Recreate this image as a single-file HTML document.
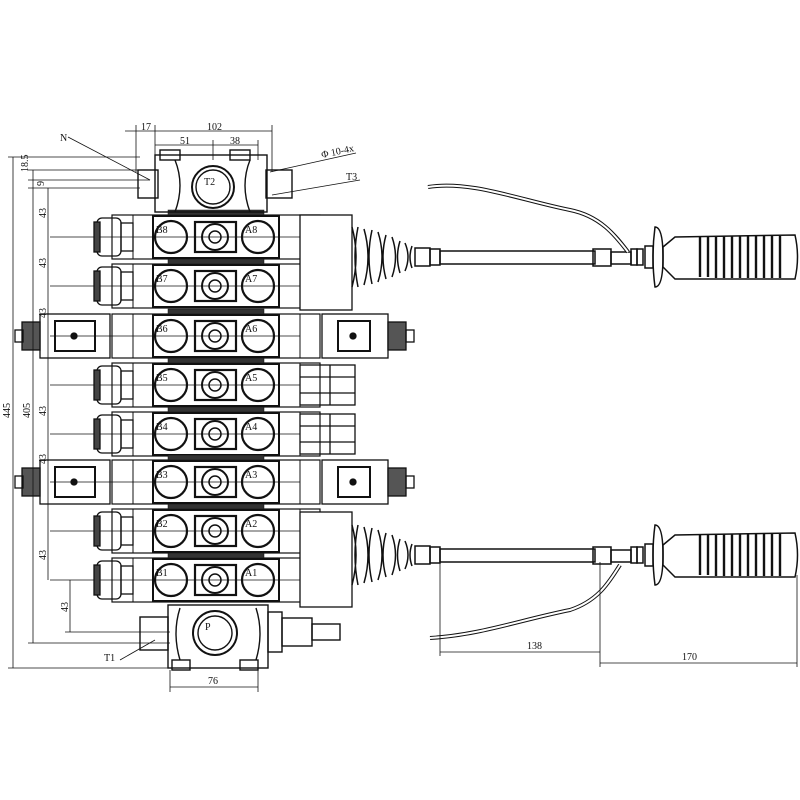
<!DOCTYPE html>
<html><head><style>
html,body{margin:0;padding:0;background:#fff;}
svg{display:block;}
text{font-family:"Liberation Serif",serif;font-size:10px;fill:#111;}
</style></head><body>
<svg width="800" height="800" viewBox="0 0 800 800" xmlns="http://www.w3.org/2000/svg">
<defs>
<g id="sec" fill="none" stroke="#111">
  <rect x="112" y="-22" width="208" height="44" stroke-width="1.2"/>
  <rect x="153" y="-21" width="126" height="42" stroke-width="2"/>
  <circle cx="171" cy="0" r="16" stroke-width="2.2"/>
  <circle cx="258" cy="0" r="16" stroke-width="2.2"/>
  <rect x="195" y="-15" width="41" height="30" stroke-width="2.2"/>
  <circle cx="215" cy="0" r="13" stroke-width="2"/>
  <circle cx="215" cy="0" r="6" stroke-width="1.5"/>
  <line x1="133" y1="-22" x2="133" y2="22"/>
  <line x1="300" y1="-22" x2="300" y2="22"/>
  <line x1="50" y1="0" x2="300" y2="0" stroke-width="0.7"/>
  <rect x="168" y="-27" width="96" height="5" fill="#333" stroke-width="0.5"/>
</g>
<g id="lcap" fill="none" stroke="#111" stroke-width="1.3">
  <rect x="97" y="-19" width="24" height="38" rx="5"/>
  <rect x="94" y="-15" width="6" height="30" fill="#444"/>
  <rect x="121" y="-14" width="12" height="28"/>
</g>
<g id="sol" fill="none" stroke="#111" stroke-width="1.3">
  <rect x="40" y="-22" width="70" height="44"/>
  <rect x="55" y="-15" width="40" height="30" stroke-width="2"/>
  <circle cx="74" cy="0" r="3" fill="#111"/>
  <rect x="22" y="-14" width="18" height="28" fill="#555"/>
  <rect x="15" y="-6" width="8" height="12"/>
</g>
<g id="solr" fill="none" stroke="#111" stroke-width="1.3">
  <rect x="322" y="-22" width="66" height="44"/>
  <rect x="338" y="-15" width="32" height="30" stroke-width="2"/>
  <circle cx="353" cy="0" r="3" fill="#111"/>
  <rect x="388" y="-14" width="18" height="28" fill="#555"/>
  <rect x="406" y="-6" width="8" height="12"/>
</g>
<g id="cap" fill="none" stroke="#111" stroke-width="1.3">
  <rect x="300" y="-20" width="55" height="40"/>
  <line x1="300" y1="-8" x2="355" y2="-8"/><line x1="300" y1="8" x2="355" y2="8"/>
  <line x1="330" y1="-20" x2="330" y2="20"/>
</g>
<g id="joy" fill="none" stroke="#111" stroke-width="1.5">
  <path d="M352,-30 q8,30 0,60 M358,-30 q-6,30 0,60 M364,-28 q8,28 0,56 M372,-27 q-6,27 0,54 M378,-25 q8,25 0,50 M386,-22 q-6,22 0,44 M392,-20 q7,20 0,40 M400,-16 q-5,16 0,32 M405,-14 q6,14 0,28 M412,-11 q-4,11 0,22"/>
  <rect x="415" y="-9" width="15" height="18"/>
  <rect x="430" y="-8" width="10" height="16"/>
  <rect x="440" y="-6" width="155" height="13"/>
  <rect x="593" y="-8" width="18" height="17"/>
  <rect x="611" y="-5" width="20" height="12"/>
  <rect x="631" y="-8" width="6" height="16"/><rect x="637" y="-8" width="6" height="16"/>
  <rect x="645" y="-11" width="8" height="22"/>
  <path d="M655,-30 q8,0 8,30 q0,30 -8,30 q-4,-30 0,-60z"/>
  <path d="M663,-10 L675,-20 L795,-22 q5,22 0,44 L675,22 L663,10z"/>
  <g stroke-width="2.4">
  <line x1="700" y1="-20" x2="700" y2="20"/><line x1="708" y1="-20" x2="708" y2="20"/><line x1="716" y1="-21" x2="716" y2="21"/><line x1="724" y1="-21" x2="724" y2="21"/><line x1="732" y1="-21" x2="732" y2="21"/><line x1="740" y1="-21" x2="740" y2="21"/><line x1="748" y1="-21" x2="748" y2="21"/><line x1="756" y1="-21" x2="756" y2="21"/><line x1="764" y1="-21" x2="764" y2="21"/><line x1="772" y1="-21" x2="772" y2="21"/><line x1="780" y1="-21" x2="780" y2="21"/></g>
</g>
</defs>

<use href="#sec" y="237"/><use href="#sec" y="286"/><use href="#sec" y="336"/><use href="#sec" y="385"/>
<use href="#sec" y="434"/><use href="#sec" y="482"/><use href="#sec" y="531"/><use href="#sec" y="580"/>
<use href="#lcap" y="237"/><use href="#lcap" y="286"/><use href="#lcap" y="385"/><use href="#lcap" y="434"/><use href="#lcap" y="531"/><use href="#lcap" y="580"/>
<use href="#sol" y="336"/><use href="#sol" y="482"/><use href="#solr" y="336"/><use href="#solr" y="482"/>
<use href="#cap" y="385"/><use href="#cap" y="434"/>
<rect x="300" y="215" width="52" height="95" fill="#fff" stroke="#111" stroke-width="1.3"/>
<rect x="300" y="512" width="52" height="95" fill="#fff" stroke="#111" stroke-width="1.3"/>
<use href="#joy" y="257"/><use href="#joy" y="555"/>
<path d="M428,187 C470,180 520,200 570,210 C600,216 615,235 628,252" fill="none" stroke="#111" stroke-width="4"/>
<path d="M428,187 C470,180 520,200 570,210 C600,216 615,235 628,252" fill="none" stroke="#fff" stroke-width="2"/>
<path d="M430,638 C480,635 520,620 570,610 C600,600 610,580 620,565" fill="none" stroke="#111" stroke-width="4"/>
<path d="M430,638 C480,635 520,620 570,610 C600,600 610,580 620,565" fill="none" stroke="#fff" stroke-width="2"/>

<g fill="none" stroke="#111" stroke-width="1.4">
<rect x="155" y="155" width="112" height="57"/>
<path d="M175,160 q10,25 0,52 M250,160 q-10,25 0,52"/>
<rect x="138" y="170" width="20" height="28"/><rect x="266" y="170" width="26" height="28"/>
<circle cx="213" cy="187" r="21" stroke-width="2"/><circle cx="213" cy="187" r="17"/>
<rect x="160" y="150" width="20" height="10"/><rect x="230" y="150" width="20" height="10"/>
<rect x="168" y="605" width="100" height="63"/>
<path d="M180,608 q-8,25 0,52 M256,608 q8,25 0,52"/>
<rect x="140" y="617" width="28" height="33"/>
<rect x="268" y="612" width="14" height="40"/><rect x="282" y="618" width="30" height="28"/>
<rect x="312" y="624" width="28" height="16"/>
<circle cx="215" cy="633" r="22" stroke-width="2"/><circle cx="215" cy="633" r="17"/>
<rect x="172" y="660" width="18" height="10"/><rect x="240" y="660" width="18" height="10"/>
</g>

<g stroke="#111" stroke-width="0.8" fill="none">
<line x1="13" y1="157" x2="13" y2="668"/><line x1="8" y1="157" x2="140" y2="157"/><line x1="8" y1="668" x2="170" y2="668"/>
<line x1="33" y1="170" x2="33" y2="643"/><line x1="28" y1="170" x2="150" y2="170"/><line x1="28" y1="643" x2="170" y2="643"/>
<line x1="28" y1="180" x2="150" y2="180"/><line x1="28" y1="188" x2="140" y2="188"/>
<line x1="48" y1="188" x2="48" y2="580"/>
<line x1="70" y1="580" x2="70" y2="632"/><line x1="65" y1="632" x2="170" y2="632"/>
<line x1="125" y1="131" x2="272" y2="131"/><line x1="136" y1="125" x2="136" y2="172"/><line x1="155" y1="125" x2="155" y2="160"/><line x1="272" y1="125" x2="272" y2="172"/>
<line x1="155" y1="145" x2="258" y2="145"/><line x1="213" y1="140" x2="213" y2="160"/><line x1="258" y1="140" x2="258" y2="160"/>
<line x1="170" y1="670" x2="170" y2="692"/><line x1="258" y1="670" x2="258" y2="692"/><line x1="170" y1="687" x2="258" y2="687"/>
<line x1="440" y1="562" x2="440" y2="656"/><line x1="600" y1="562" x2="600" y2="667"/><line x1="797" y1="575" x2="797" y2="667"/>
<line x1="440" y1="652" x2="600" y2="652"/><line x1="600" y1="663" x2="797" y2="663"/>
<line x1="68" y1="137" x2="150" y2="180"/><line x1="270" y1="172" x2="356" y2="153"/><line x1="272" y1="195" x2="360" y2="180"/>
<line x1="120" y1="660" x2="155" y2="640"/>
</g>
<text x="141" y="130">17</text><text x="207" y="130">102</text>
<text x="180" y="144">51</text><text x="230" y="144">38</text>
<text x="60" y="141">N</text><text x="322" y="158" transform="rotate(-12 322 158)">Φ 10-4x</text>
<text x="346" y="180">T3</text><text x="104" y="661">T1</text>
<text x="208" y="684">76</text><text x="527" y="649">138</text><text x="682" y="660">170</text>
<text x="204" y="185">T2</text><text x="205" y="630">P</text>
<g font-size="9">
<text x="156" y="233">B8</text><text x="245" y="233">A8</text>
<text x="156" y="282">B7</text><text x="245" y="282">A7</text>
<text x="156" y="332">B6</text><text x="245" y="332">A6</text>
<text x="156" y="381">B5</text><text x="245" y="381">A5</text>
<text x="156" y="430">B4</text><text x="245" y="430">A4</text>
<text x="156" y="478">B3</text><text x="245" y="478">A3</text>
<text x="156" y="527">B2</text><text x="245" y="527">A2</text>
<text x="156" y="576">B1</text><text x="245" y="576">A1</text>
</g>
<text transform="translate(10,418) rotate(-90)">445</text>
<text transform="translate(30,418) rotate(-90)">405</text>
<text transform="translate(46,218) rotate(-90)">43</text>
<text transform="translate(46,268) rotate(-90)">43</text>
<text transform="translate(46,318) rotate(-90)">43</text>
<text transform="translate(46,416) rotate(-90)">43</text>
<text transform="translate(46,464) rotate(-90)">43</text>
<text transform="translate(46,560) rotate(-90)">43</text>
<text transform="translate(68,612) rotate(-90)">43</text>
<text transform="translate(28,172) rotate(-90)">18.5</text>
<text transform="translate(44,186) rotate(-90)">9</text>
</svg>
</body></html>
